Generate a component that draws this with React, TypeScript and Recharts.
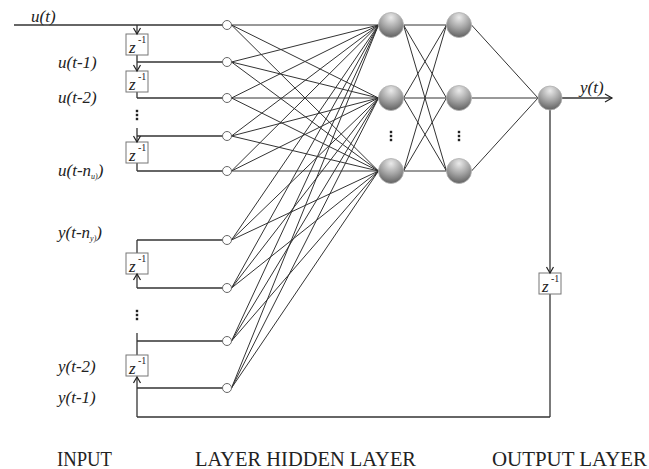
import React from "react";
import { ScatterChart, Scatter, XAxis, YAxis, ReferenceLine } from "recharts";

const W = 649;
const H = 469;

// column positions of each layer
const delayX = 137;
const inputX = 227;
const hidden1X = 391;
const hidden2X = 459;
const outputX = 550;

// node rows
const inputY = [25, 62, 98, 136, 171, 240, 288, 341, 388];
const hiddenY = [25, 98, 171];
const outputY = 98;
const feedbackY = 417;

// tapped delay line (z^-1 box tops) and wire runs on the delay column
const uBoxTop = [34, 71, 142];
const yBoxTop = [253, 355];
const outBoxTop = 273;
const uWires = [[25, 34], [55, 71], [92, 98], [128, 142], [163, 171]];
const yWires = [[240, 253], [274, 288], [333, 355], [377, feedbackY]];
const outWires = [[110, outBoxTop], [294, feedbackY]];

// ellipsis marks
const dotsAt = [
  { x: delayX, y: 115 },
  { x: delayX, y: 315 },
  { x: hidden1X, y: 136 },
  { x: hidden2X, y: 136 },
];

const arrows = [
  { x: delayX, y: 34, dir: "down" },
  { x: delayX, y: 71, dir: "down" },
  { x: delayX, y: 142, dir: "down" },
  { x: delayX, y: 274, dir: "up" },
  { x: delayX, y: 377, dir: "up" },
  { x: outputX, y: outBoxTop, dir: "down" },
  { x: 612, y: outputY, dir: "right" },
];

const signalNames = ["u(t)", "u(t-1)", "u(t-2)", "u(t-n|u)", "y(t-n|y)", "y(t-2)", "y(t-1)", "y(t)"];
const signalX = [31, 58, 58, 58, 58, 58, 58, 580];
const signalY = [22, 68, 103, 176, 238, 372, 403, 93];

const layerNames = ["INPUT", "LAYER HIDDEN LAYER", "OUTPUT LAYER"];
const layerX = [57, 195, 492];
const layerW = [55, 221, 155];
const layerBaseline = 466;

const R_IN = 4.5;
const R_HID = 12.5;
const R_OUT = 12;
const BOX_W = 22;
const BOX_H = 21;
const LINE = "#333";
const SERIF = "Liberation Serif";

type Seg = { x1: number; y1: number; x2: number; y2: number; w?: number };

const segments: Seg[] = [];
// u(t) feed line
segments.push({ x1: 14, y1: inputY[0], x2: inputX - R_IN, y2: inputY[0] });
// taps from delay column into input nodes
inputY.slice(1).forEach((y) => segments.push({ x1: delayX, y1: y, x2: inputX - R_IN, y2: y }));
[...uWires, ...yWires].forEach(([a, b]) => segments.push({ x1: delayX, y1: a, x2: delayX, y2: b }));
outWires.forEach(([a, b]) => segments.push({ x1: outputX, y1: a, x2: outputX, y2: b }));
segments.push({ x1: delayX, y1: feedbackY, x2: outputX, y2: feedbackY });
segments.push({ x1: outputX + R_OUT, y1: outputY, x2: 612, y2: outputY });
// fully connected layers
inputY.forEach((iy) =>
  hiddenY.forEach((hy) =>
    segments.push({ x1: inputX + R_IN, y1: iy, x2: hidden1X - R_HID, y2: hy, w: 1 })
  )
);
hiddenY.forEach((a) =>
  hiddenY.forEach((b) =>
    segments.push({ x1: hidden1X + R_HID, y1: a, x2: hidden2X - R_HID, y2: b, w: 1 })
  )
);
hiddenY.forEach((a) =>
  segments.push({ x1: hidden2X + R_HID, y1: a, x2: outputX - R_OUT, y2: outputY, w: 1 })
);

const inputNodes = inputY.map((y) => ({ x: inputX, y }));
const ballNodes = [
  ...hiddenY.map((y) => ({ x: hidden1X, y, r: R_HID })),
  ...hiddenY.map((y) => ({ x: hidden2X, y, r: R_HID })),
  { x: outputX, y: outputY, r: R_OUT },
];
const boxes = [
  ...uBoxTop.map((t) => ({ x: delayX, y: t + BOX_H / 2 })),
  ...yBoxTop.map((t) => ({ x: delayX, y: t + BOX_H / 2 })),
  { x: outputX, y: outBoxTop + BOX_H / 2 },
];
const signalLabels = signalNames.map((name, i) => ({ x: signalX[i], y: signalY[i], name }));
const layerLabels = layerNames.map((name, i) => ({ x: layerX[i], y: layerBaseline, name, w: layerW[i] }));

const InputNode = (p: any) => (
  <circle cx={p.cx} cy={p.cy} r={R_IN} fill="#fff" stroke="#666" strokeWidth={1} />
);

const Ball = (p: any) => (
  <g>
    <defs>
      <radialGradient id="ball" cx="0.5" cy="0.2" r="0.85">
        <stop offset="0" stopColor="#eaeaea" />
        <stop offset="0.5" stopColor="#a4a4a4" />
        <stop offset="1" stopColor="#585858" />
      </radialGradient>
    </defs>
    <circle cx={p.cx} cy={p.cy} r={p.payload.r} fill="url(#ball)" stroke="#b0b0b0" strokeWidth={0.8} />
  </g>
);

const DelayBox = (p: any) => (
  <g>
    <rect
      x={p.cx - BOX_W / 2}
      y={p.cy - BOX_H / 2}
      width={BOX_W}
      height={BOX_H}
      fill="#fff"
      stroke="#777"
      strokeWidth={1}
    />
    <text x={p.cx - 8} y={p.cy + 8} style={{ fontFamily: SERIF, fontStyle: "italic", fontSize: 17 }} fill="#222">
      z
    </text>
    <text x={p.cx + 1} y={p.cy - 2} style={{ fontFamily: SERIF, fontSize: 10 }} fill="#222">
      -1
    </text>
  </g>
);

const Arrow = (p: any) => {
  const { cx, cy } = p;
  const d = p.payload.dir;
  let path = "";
  if (d === "down") path = `M${cx - 3.5},${cy - 6} L${cx},${cy} L${cx + 3.5},${cy - 6}`;
  if (d === "up") path = `M${cx - 3.5},${cy + 6} L${cx},${cy} L${cx + 3.5},${cy + 6}`;
  if (d === "right") path = `M${cx - 7},${cy - 4} L${cx},${cy} L${cx - 7},${cy + 4}`;
  return <path d={path} fill="none" stroke="#222" strokeWidth={1.2} />;
};

const Dots = (p: any) => (
  <g fill="#222">
    {[-4, 0, 4].map((o) => (
      <rect key={o} x={p.cx - 1.2} y={p.cy + o - 1.2} width={2.4} height={2.4} />
    ))}
  </g>
);

const SignalLabel = (p: any) => {
  const [main, sub] = String(p.payload.name).split("|");
  return (
    <text
      x={p.cx}
      y={p.cy}
      style={{ fontFamily: SERIF, fontStyle: "italic", fontSize: 17 }}
      fill="#222"
    >
      {sub ? (
        <>
          <tspan>{main}</tspan>
          <tspan style={{ fontSize: 8 }} dy={3}>{sub}</tspan>
          <tspan dy={-3}>)</tspan>
        </>
      ) : (
        main
      )}
    </text>
  );
};

const LayerLabel = (p: any) => (
  <text
    x={p.cx}
    y={p.cy}
    style={{ fontFamily: SERIF, fontSize: 20 }}
    fill="#222"
    textLength={p.payload.w}
    lengthAdjust="spacingAndGlyphs"
  >
    {p.payload.name}
  </text>
);

export default function App() {
  return (
    <div style={{ width: W, height: H, background: "#fff" }}>
      <style>{`body{margin:0}`}</style>
      <ScatterChart width={W} height={H} margin={{ top: 0, right: 0, bottom: 0, left: 0 }}>
        <XAxis type="number" dataKey="x" domain={[0, W]} hide />
        <YAxis type="number" dataKey="y" domain={[0, H]} reversed hide />
        {segments.map((s, i) => (
          <ReferenceLine
            key={i}
            segment={[
              { x: s.x1, y: s.y1 },
              { x: s.x2, y: s.y2 },
            ]}
            stroke={LINE}
            strokeWidth={s.w ?? 1.3}
            ifOverflow="visible"
          />
        ))}
        <Scatter data={inputNodes} shape={InputNode} isAnimationActive={false} />
        <Scatter data={ballNodes} shape={Ball} isAnimationActive={false} />
        <Scatter data={boxes} shape={DelayBox} isAnimationActive={false} />
        <Scatter data={arrows} shape={Arrow} isAnimationActive={false} />
        <Scatter data={dotsAt} shape={Dots} isAnimationActive={false} />
        <Scatter data={signalLabels} shape={SignalLabel} isAnimationActive={false} />
        <Scatter data={layerLabels} shape={LayerLabel} isAnimationActive={false} />
      </ScatterChart>
    </div>
  );
}
